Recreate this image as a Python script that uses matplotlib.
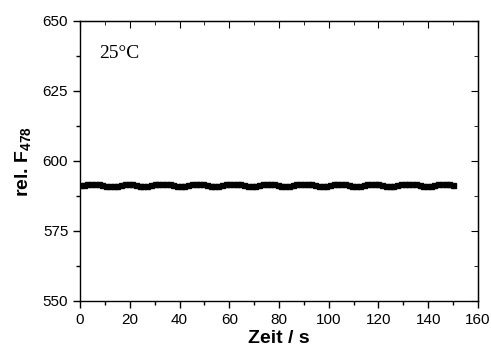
import matplotlib
matplotlib.use('Agg')
import matplotlib.pyplot as plt
from matplotlib.ticker import MultipleLocator

plt.rcParams['font.family'] = ['Liberation Sans', 'DejaVu Sans']
plt.rcParams['mathtext.fontset'] = 'custom'
plt.rcParams['mathtext.rm'] = 'Liberation Sans'
plt.rcParams['mathtext.bf'] = 'Liberation Sans:bold'

# Messdaten (Zeit in s, relative Fluoreszenz bei 478 nm)
zeit = [i * 1.5 for i in range(101)]
fluo = [591.3, 591.6, 591.8, 591.8, 591.8, 591.8, 591.6, 591.2, 590.9, 590.9, 591.2, 591.6, 591.9,
        591.9, 591.9, 591.6, 591.2, 590.9, 591.0, 591.4, 591.7, 591.9, 591.9, 591.9, 591.8, 591.4,
        591.0, 590.9, 591.1, 591.5, 591.8, 591.9, 591.9, 591.9, 591.6, 591.2, 590.9, 591.0, 591.3,
        591.7, 591.9, 591.9, 591.9, 591.8, 591.4, 591.0, 590.9, 591.1, 591.5, 591.8, 591.9, 591.9,
        591.9, 591.6, 591.2, 590.9, 590.9, 591.3, 591.7, 591.9, 591.9, 591.9, 591.7, 591.3, 591.0,
        590.9, 591.2, 591.6, 591.9, 591.9, 591.9, 591.8, 591.4, 591.0, 590.9, 591.1, 591.5, 591.8,
        591.9, 591.9, 591.9, 591.6, 591.2, 590.9, 591.0, 591.3, 591.7, 591.9, 591.9, 591.9, 591.7,
        591.3, 591.0, 590.9, 591.1, 591.5, 591.8, 591.9, 591.9, 591.8, 591.6]

fig = plt.figure(figsize=(4.91, 3.5), dpi=100)
ax = fig.add_axes([0.163, 0.14, 0.8105, 0.80])
ax.plot(zeit, fluo, 'ks-', markersize=3.6, linewidth=1)

ax.set_xlim(0, 160)
ax.set_ylim(550, 650)
ax.xaxis.set_major_locator(MultipleLocator(20))
ax.xaxis.set_minor_locator(MultipleLocator(10))
ax.yaxis.set_major_locator(MultipleLocator(25))
ax.yaxis.set_minor_locator(MultipleLocator(12.5))
ax.tick_params(which='both', direction='out', labelsize=11, width=1)
ax.tick_params(which='major', length=5)
ax.tick_params(which='minor', length=3)
for s in ax.spines.values():
    s.set_linewidth(1)

# innenliegende Ticks oben und rechts
ax2 = ax.secondary_xaxis('top')
ax2.xaxis.set_major_locator(MultipleLocator(20))
ax2.xaxis.set_minor_locator(MultipleLocator(10))
ax2.tick_params(which='both', direction='in', labeltop=False)
ax2.tick_params(which='major', length=5)
ax2.tick_params(which='minor', length=3)
ax3 = ax.secondary_yaxis('right')
ax3.yaxis.set_major_locator(MultipleLocator(25))
ax3.yaxis.set_minor_locator(MultipleLocator(12.5))
ax3.tick_params(which='both', direction='in', labelright=False)
ax3.tick_params(which='major', length=5)
ax3.tick_params(which='minor', length=3)

ax.set_xlabel('Zeit / s', fontsize=14, fontweight='bold', labelpad=2)
ax.set_ylabel(r'rel. F$_\mathbf{478}$', fontsize=14, fontweight='bold', labelpad=6)
ax.text(7.5, 638.5, '25°C', family='Liberation Serif', fontsize=14, va='center')

fig.savefig('out.png', dpi=100)
